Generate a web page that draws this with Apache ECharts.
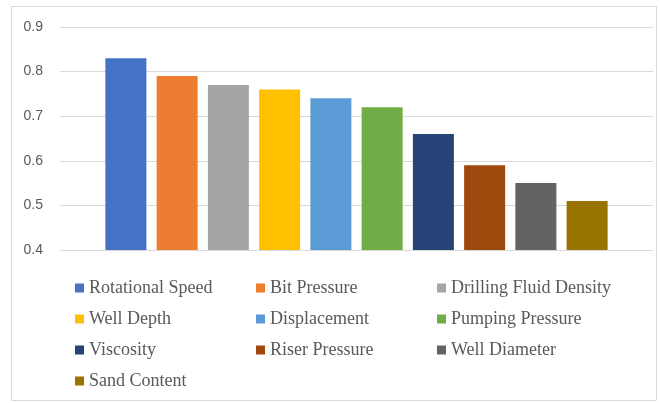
<!DOCTYPE html>
<html>
<head>
<meta charset="utf-8">
<style>
  html, body { margin: 0; padding: 0; background: #ffffff; }
  #chart { width: 660px; height: 403px; }
</style>
<script src="https://cdn.jsdelivr.net/npm/echarts@6/dist/echarts.min.js"></script>
</head>
<body>
<div id="chart"></div>
<script>
// Factor names, their correlation values and bar colours
const factors = [
  'Rotational Speed', 'Bit Pressure', 'Drilling Fluid Density', 'Well Depth',
  'Displacement', 'Pumping Pressure', 'Viscosity', 'Riser Pressure',
  'Well Diameter', 'Sand Content'
];
const values = [0.83, 0.79, 0.77, 0.76, 0.74, 0.72, 0.66, 0.59, 0.55, 0.51];
const colors = [
  '#4472C4', '#ED7D31', '#A5A5A5', '#FFC000', '#5B9BD5',
  '#70AD47', '#264478', '#9E480E', '#636363', '#997300'
];
const yTicks = { min: 0.4, max: 0.9, step: 0.1 };

// Legend is laid out in three columns, filled row by row
const legendColumns = [[], [], []];
factors.forEach((name, i) => legendColumns[i % 3].push(name));
const columnLeft = [75, 256, 437];

const legendText = {
  color: '#595959',
  fontFamily: '"Liberation Serif", "Times New Roman", serif',
  fontSize: 18,
  lineHeight: 18
};

const chart = echarts.init(document.getElementById('chart'), null, { renderer: 'canvas' });

chart.setOption({
  animation: false,
  backgroundColor: '#ffffff',
  color: colors,
  graphic: [{
    type: 'rect',
    shape: { x: 11.5, y: 6.5, width: 645, height: 394 },
    style: { fill: 'none', stroke: '#d9d9d9', lineWidth: 1 },
    silent: true
  }],
  grid: { left: 60, right: 7, top: 27, bottom: 153 },
  xAxis: {
    type: 'category',
    data: [''],
    axisLine: { show: false },
    axisTick: { show: false },
    axisLabel: { show: false }
  },
  yAxis: {
    type: 'value',
    min: yTicks.min,
    max: yTicks.max,
    interval: yTicks.step,
    axisLine: { show: false },
    axisTick: { show: false },
    axisLabel: {
      margin: 17,
      color: '#595959',
      fontSize: 14,
      fontFamily: '"Liberation Sans", Arial, sans-serif',
      formatter: v => v.toFixed(1)
    },
    splitLine: { lineStyle: { color: '#d9d9d9', width: 1 } }
  },
  legend: legendColumns.map((names, c) => ({
    data: names,
    orient: 'vertical',
    left: columnLeft[c],
    top: 279,
    itemWidth: 9,
    itemHeight: 9,
    itemGap: 13,
    padding: 0,
    icon: 'rect',
    selectedMode: false,
    textStyle: legendText
  })),
  series: factors.map((name, i) => ({
    name: name,
    type: 'bar',
    data: [values[i]],
    barWidth: 41,
    barGap: '25%',
    itemStyle: { color: colors[i] }
  }))
});
</script>
</body>
</html>
